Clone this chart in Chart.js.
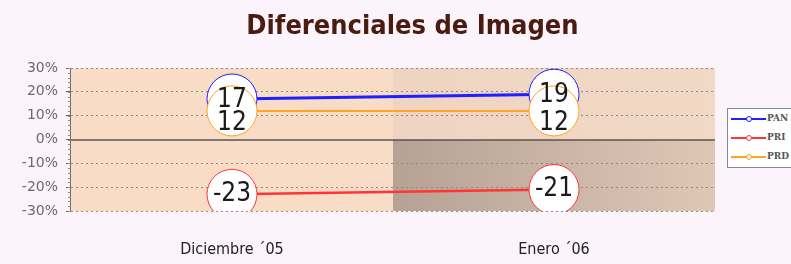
<!DOCTYPE html>
<html>
<head>
<meta charset="utf-8">
<script src="https://cdn.jsdelivr.net/npm/chart.js@4.4.1/dist/chart.umd.min.js"></script>
<style>
  html, body { margin: 0; padding: 0; background: #fcf4fb; }
  #wrap { position: relative; width: 791px; height: 264px; overflow: hidden; }
  #title {
    position: absolute; left: 34px; right: 0; top: 9px;
    text-align: center; font: bold 27px "DejaVu Sans Condensed", "DejaVu Sans", sans-serif;
    color: #4b1b10;
  }
  #legend {
    position: absolute; left: 727px; top: 108px; width: 80px; height: 60px;
    border: 1px solid #8a8a8a; background: #ffffff; box-sizing: border-box;
    font: bold 9px "DejaVu Serif", serif; color: #555;
  }
  .item { position: absolute; left: 3px; height: 10px; }
  .item .ln { position: absolute; left: 0; top: 4px; width: 35px; height: 2px; }
  .item .dot { position: absolute; left: 15px; top: 2px; width: 4px; height: 4px; border-radius: 50%; background: #fff; border: 1px solid; }
  .item .tx { position: absolute; left: 36px; top: -1px; }
</style>
</head>
<body>
<div id="wrap">
  <canvas id="chart" width="791" height="264"></canvas>
  <div id="title">Diferenciales de Imagen</div>
  <div id="legend"></div>
</div>
<script>
// Data
const months = ['Diciembre \u00b405', 'Enero \u00b406'];
const seriesNames = ['PAN', 'PRI', 'PRD'];
const pan = [17, 19];
const pri = [-23, -21];
const prd = [12, 12];
const yTicks = [-30, -20, -10, 0, 10, 20, 30];

const colors = ['#1f1fff', '#ff3535', '#ffa424'];
const lineWidths = [3, 2.5, 2];
const labelShift = [1, 0, 12];

// background panels, zero line and y axis line
const plotBackground = {
  id: 'plotBackground',
  beforeDraw(chart) {
    const { ctx, chartArea: a, scales } = chart;
    const midX = scales.x.getPixelForValue(0.5);
    const zeroY = scales.y.getPixelForValue(0);
    ctx.save();
    ctx.fillStyle = '#f8dcc6';
    ctx.fillRect(a.left, a.top, midX - a.left, a.bottom - a.top);
    let g = ctx.createLinearGradient(midX, 0, a.right, 0);
    g.addColorStop(0, '#eed4c1');
    g.addColorStop(1, '#f2d9c6');
    ctx.fillStyle = g;
    ctx.fillRect(midX, a.top, a.right - midX, zeroY - a.top);
    g = ctx.createLinearGradient(midX, 0, a.right, 0);
    g.addColorStop(0, '#b6a195');
    g.addColorStop(1, '#dfc7b5');
    ctx.fillStyle = g;
    ctx.fillRect(midX, zeroY, a.right - midX, a.bottom - zeroY);
    ctx.restore();
  },
  beforeDatasetsDraw(chart) {
    const { ctx, chartArea: a, scales } = chart;
    const zeroY = Math.round(scales.y.getPixelForValue(0));
    ctx.save();
    ctx.strokeStyle = '#5a5550';
    ctx.lineWidth = 1.5;
    ctx.beginPath();
    ctx.moveTo(a.left, zeroY);
    ctx.lineTo(a.right, zeroY);
    ctx.stroke();
    ctx.restore();
  },
  afterDraw(chart) {
    const { ctx, chartArea: a, scales } = chart;
    ctx.save();
    ctx.strokeStyle = '#6a6a6a';
    ctx.lineWidth = 1;
    ctx.beginPath();
    ctx.moveTo(a.left - 0.5, a.top);
    ctx.lineTo(a.left - 0.5, a.bottom);
    ctx.stroke();
    // minor ticks
    ctx.strokeStyle = '#888';
    for (let v = -30; v <= 30; v += 2) {
      const y = Math.round(scales.y.getPixelForValue(v)) + 0.5;
      ctx.beginPath();
      ctx.moveTo(a.left - 3, y);
      ctx.lineTo(a.left, y);
      ctx.stroke();
    }
    ctx.restore();
  }
};

// numbers inside the big circles
const valueLabels = {
  id: 'valueLabels',
  afterDatasetsDraw(chart) {
    const ctx = chart.ctx;
    ctx.save();
    ctx.font = '26px "DejaVu Sans Condensed", "DejaVu Sans", sans-serif';
    ctx.fillStyle = '#1a1a1a';
    ctx.textAlign = 'center';
    ctx.textBaseline = 'middle';
    chart.data.datasets.forEach((ds, i) => {
      chart.getDatasetMeta(i).data.forEach((pt, j) => {
        ctx.fillText(ds.data[j], pt.x, pt.y + labelShift[i]);
      });
    });
    ctx.restore();
  }
};

const sets = [pan, pri, prd].map((d, i) => ({
  label: seriesNames[i],
  data: d,
  borderColor: colors[i],
  borderWidth: lineWidths[i],
  pointRadius: 25,
  pointBackgroundColor: '#ffffff',
  pointBorderColor: colors[i],
  pointBorderWidth: 1,
  order: 3 - i,
  tension: 0
}));

new Chart(document.getElementById('chart'), {
  type: 'line',
  data: { labels: months, datasets: sets },
  options: {
    responsive: false,
    animation: false,
    layout: { padding: { left: 0, right: 76, top: 68, bottom: 0 } },
    plugins: { legend: { display: false }, title: { display: false }, tooltip: { enabled: false } },
    scales: {
      x: {
        offset: true,
        afterFit(s) { s.height = 53; },
        grid: { display: false, drawTicks: false },
        border: { display: false },
        ticks: { padding: 29, color: '#222', font: { family: '"DejaVu Sans Condensed", "DejaVu Sans", sans-serif', size: 16 } }
      },
      y: {
        min: -30, max: 30,
        afterFit(s) { s.width = 71; },
        afterBuildTicks(s) { s.ticks = yTicks.map(v => ({ value: v })); },
        border: { display: false, dash: [2, 3] },
        grid: {
          color: ctx => ctx.tick.value === 0 ? 'rgba(0,0,0,0)' : '#8e8886',
          lineWidth: 1,
          tickColor: '#666',
          tickLength: 5,
          tickBorderDash: [],
          drawTicks: true
        },
        ticks: {
          padding: 8,
          color: '#6a6a6a',
          font: { family: '"DejaVu Sans", sans-serif', size: 14 },
          callback: v => v + '%'
        }
      }
    }
  },
  plugins: [plotBackground, valueLabels]
});

// legend
const legend = document.getElementById('legend');
seriesNames.forEach((name, i) => {
  const it = document.createElement('div');
  it.className = 'item';
  it.style.top = (5 + i * 19) + 'px';
  it.innerHTML = '<div class="ln" style="background:' + colors[i] + '"></div>' +
    '<div class="dot" style="border-color:' + colors[i] + '"></div>' +
    '<div class="tx">' + name + '</div>';
  legend.appendChild(it);
});
</script>
</body>
</html>
